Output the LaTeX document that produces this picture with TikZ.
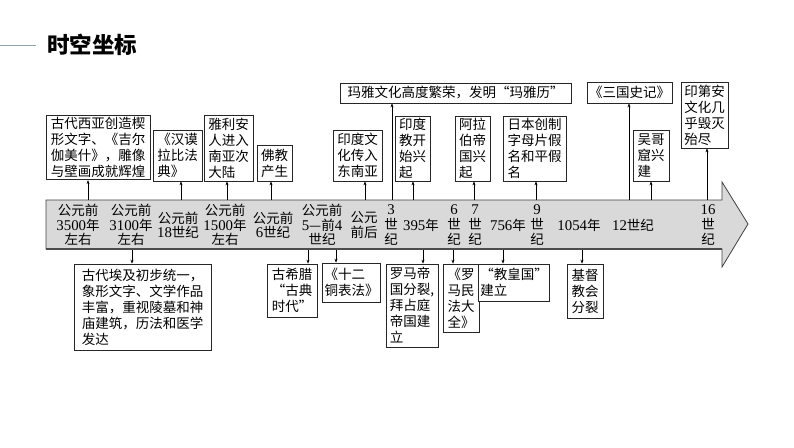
\documentclass[tikz,border=0pt]{standalone}
\usepackage{fontspec}
\setmainfont{Noto Sans CJK SC}
\newfontfamily\num[Scale=1.1]{Liberation Serif}
\usetikzlibrary{arrows.meta}
\newcommand\fs{\fontsize{13.5}{16}\selectfont}
\newcommand\fsb{\fontsize{13.5}{14.6}\selectfont}
\definecolor{titleline}{HTML}{8FA8B4}
\tikzset{
  box/.style={draw=black!85, line width=0.7pt, fill=white, align=left, inner sep=2pt, font=\fs},
  lab/.style={align=center, inner sep=0pt, font=\fsb},
  arr/.style={-{Stealth[length=4pt,width=3pt]}, line width=0.6pt},
}
\newcommand\bx[6]{\node[box, minimum width={#4pt-#2pt}, minimum height={#5pt-#3pt}] (#1) at ({(#2+#4)/2},{(#3+#5)/2}) {#6};}
\begin{document}
\begin{tikzpicture}[x=1pt,y=-1pt]
\useasboundingbox (0,0) rectangle (794,447);
% title
\coordinate (tl0) at (0,45);
\coordinate (tl1) at (36,45);
\node[font=\fontsize{22.5}{26}\selectfont\bfseries, anchor=west, inner sep=0pt] (title) at (47,45) {时空坐标};
\draw[titleline, line width=0.6pt] (tl0) -- (tl1);
% band
\draw[fill=gray!30, draw=black!75, line width=0.8pt]
  (46,200) -- (722,200) -- (722,182) -- (748,224) -- (722,267) -- (722,249) -- (46,249) -- cycle;
\draw[black!70, line width=1.4pt] (46,249) -- (722,249);
% timeline labels
\node[lab] (t1) at (78,225) {公元前\\{\num 3500}年\\左右};
\node[lab] (t2) at (131,225) {公元前\\{\num 3100}年\\左右};
\node[lab] (t3) at (178,225) {公元前\\{\num 18}世纪};
\node[lab] (t4) at (225,225) {公元前\\{\num 1500}年\\左右};
\node[lab] (t5) at (273,225) {公元前\\{\num 6}世纪};
\node[lab] (t6) at (322,225) {公元前\\{\num 5}—前{\num 4}\\世纪};
\node[lab] (t7) at (364,225) {公元\\前后};
\node[lab] (t8) at (391,225) {{\num 3}\\世\\纪};
\node[lab] (t9) at (421,225) {{\num 395}年};
\node[lab] (t10) at (454,225) {{\num 6}\\世\\纪};
\node[lab] (t11) at (475,225) {{\num 7}\\世\\纪};
\node[lab] (t12) at (508,225) {{\num 756}年};
\node[lab] (t13) at (537,225) {{\num 9}\\世\\纪};
\node[lab] (t14) at (579,225) {{\num 1054}年};
\node[lab] (t15) at (633,225) {{\num 12}世纪};
\node[lab] (t16) at (708,225) {{\num 16}\\世\\纪};
% upper boxes
\bx{b1}{46}{116}{150}{179}{古代西亚创造楔\\形文字、《吉尔\\伽美什》，雕像\\与壁画成就辉煌}
\bx{b2}{153}{130}{202}{181}{《汉谟\\拉比法\\典》}
\bx{b3}{204}{115}{253}{181}{雅利安\\人进入\\南亚次\\大陆}
\bx{b4}{257}{145}{292}{181}{佛教\\产生}
\bx{maya}{340}{83}{571}{103}{玛雅文化高度繁荣，发明“玛雅历”}
\bx{b5}{333}{130}{382}{181}{印度文\\化传入\\东南亚}
\bx{b6}{395}{116}{430}{181}{印度\\教开\\始兴\\起}
\bx{b7}{455}{116}{490}{181}{阿拉\\伯帝\\国兴\\起}
\bx{b8}{503}{116}{566}{181}{日本创制\\字母片假\\名和平假\\名}
\bx{sg}{587}{82}{672}{103}{《三国史记》}
\bx{wg}{633}{130}{669}{181}{吴哥\\窟兴\\建}
\bx{ind}{681}{82}{728}{148}{印第安\\文化几\\乎毁灭\\殆尽}
% lower boxes
\bx{e1}{74}{264}{211}{350}{古代埃及初步统一，\\象形文字、文学作品\\丰富，重视陵墓和神\\庙建筑，历法和医学\\发达}
\bx{e2}{267}{264}{317}{317}{古希腊\\“古典\\时代”}
\bx{e3}{323}{263}{380}{302}{《十二\\铜表法》}
\bx{e4}{386}{264}{438}{347}{罗马帝\\国分裂,\\拜占庭\\帝国建\\立}
\bx{e5}{443}{264}{479}{332}{《罗\\马民\\法大\\全》}
\bx{e6}{483}{264}{545}{301}{“教皇国”\\建立}
\bx{e7}{567}{264}{603}{318}{基督\\教会\\分裂}
% upper connectors
\foreach \n/\x in {b1/88, b2/181, b3/227, b4/271, maya/392, b5/365, b6/413, b7/474, b8/536, sg/629, wg/651, ind/707}{
  \coordinate (u\n) at (\x,200);
  \draw[arr] (u\n) -- (u\n |- \n.south);
}
% lower connectors
\foreach \n/\x in {e1/132, e2/308, e3/336, e4/423, e5/453, e6/503, e7/582}{
  \coordinate (d\n) at (\x,250);
  \draw[arr] (d\n) -- (d\n |- \n.north);
}
\end{tikzpicture}
\end{document}
